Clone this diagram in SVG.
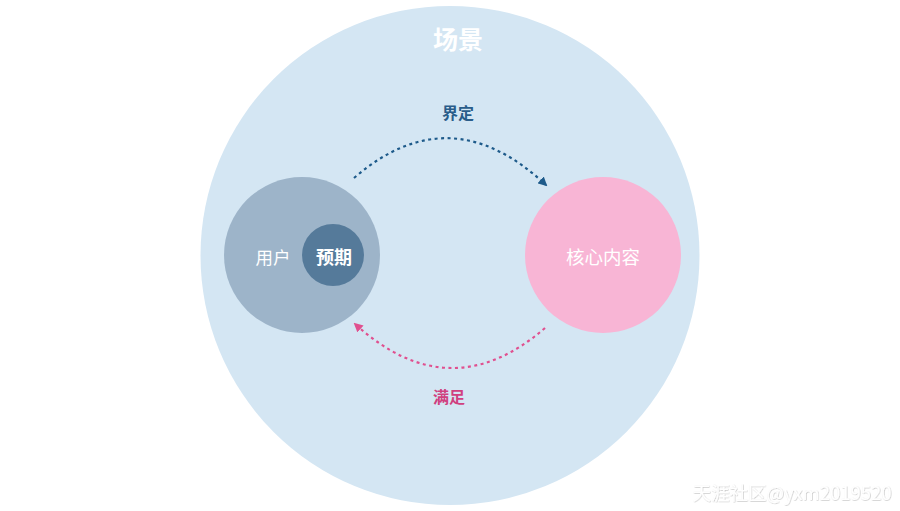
<svg xmlns="http://www.w3.org/2000/svg" width="900" height="511" viewBox="0 0 900 511">
<style>
text{font-family:"Noto Sans CJK SC","Noto Sans",sans-serif;text-anchor:middle;dominant-baseline:central}
.w{fill:#ffffff}
.arc{fill:none;stroke-width:2.2;stroke-dasharray:3 3.5}
</style>
<defs>
<marker id="ab" viewBox="0 0 10 10" refX="8" refY="5" markerWidth="4.2" markerHeight="4.2" orient="auto"><path d="M0,0 L10,5 L0,10 z" fill="#1d5a8a"/></marker>
<marker id="ap" viewBox="0 0 10 10" refX="8" refY="5" markerWidth="4.2" markerHeight="4.2" orient="auto"><path d="M0,0 L10,5 L0,10 z" fill="#e0508f"/></marker>
<filter id="sh" x="-5%" y="-20%" width="110%" height="140%"><feDropShadow dx="0.5" dy="0.5" stdDeviation="0.6" flood-color="#000" flood-opacity="0.3"/></filter>
</defs>
<rect width="900" height="511" fill="#ffffff"/>
<g id="scene">
<circle cx="450" cy="255.5" r="249.5" fill="#d4e6f3"/>
<text x="458" y="38" class="w" font-size="25" font-weight="bold">场景</text>
</g>
<g id="user">
<circle cx="302" cy="255" r="78" fill="#9db4c9"/>
<text x="273" y="256" class="w" font-size="17.5">用户</text>
</g>
<g id="expect">
<circle cx="333" cy="255" r="31" fill="#557a9a"/>
<text x="334" y="256" class="w" font-size="18" font-weight="bold">预期</text>
</g>
<g id="content">
<circle cx="603" cy="255" r="78" fill="#f8b5d5"/>
<text x="603" y="256" class="w" font-size="18.5">核心内容</text>
</g>
<g id="connectors">
<path class="arc" d="M354,178 Q450,95 546,185" stroke="#1d5a8a" marker-end="url(#ab)"/>
<text x="458" y="112" font-size="16" font-weight="bold" fill="#2a5d8a">界定</text>
<path class="arc" d="M545,328 Q450,410 355,324" stroke="#e0508f" marker-end="url(#ap)"/>
<text x="449" y="396" font-size="16" font-weight="bold" fill="#d0407f">满足</text>
</g>
<text x="792" y="492" class="w" font-size="18.5" filter="url(#sh)">天涯社区@yxm2019520</text>
</svg>
